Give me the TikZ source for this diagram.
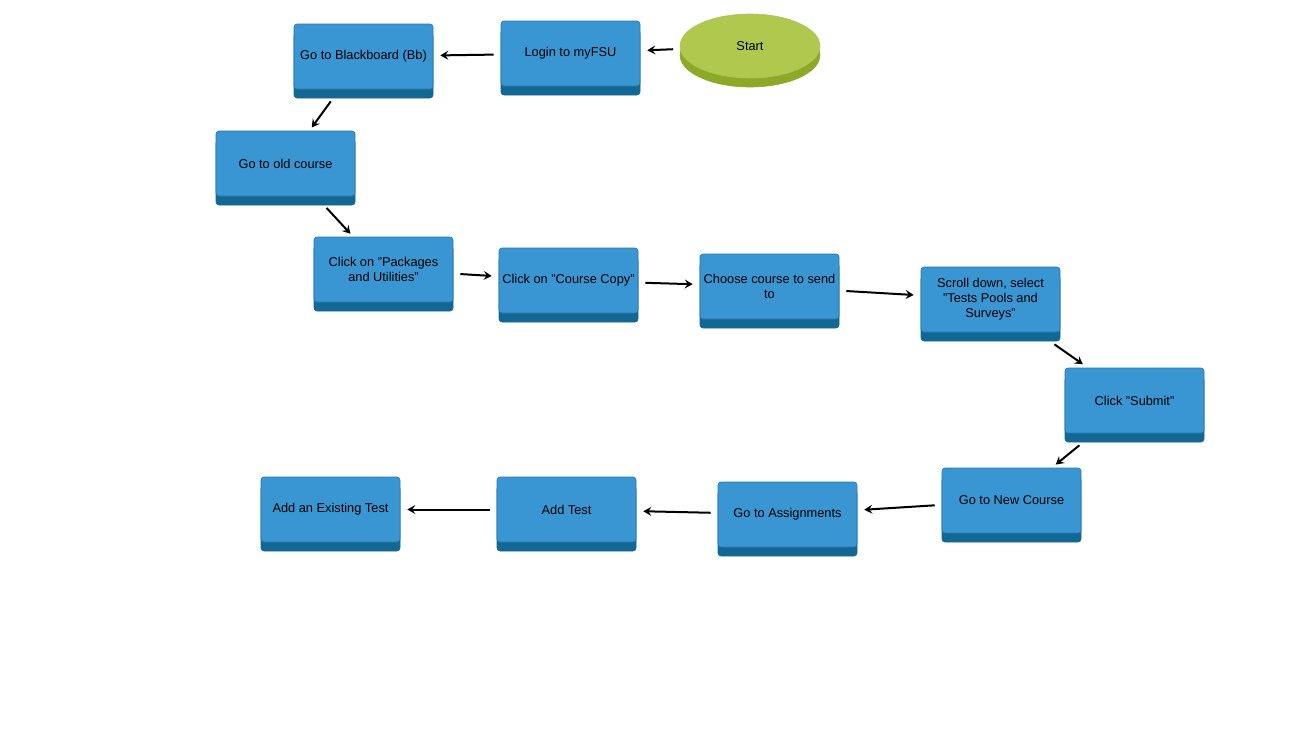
\documentclass[tikz,border=0pt]{standalone}
\usepackage{fontspec}
\setmainfont{Liberation Sans}
\usepackage{tikz}
\usetikzlibrary{
	arrows.meta,
	shapes.geometric
}
\definecolor{BoxBlue}{RGB}{58,150,211}
\definecolor{BoxEdge}{RGB}{36,118,176}
\definecolor{BoxDark}{RGB}{18,104,146}
\definecolor{StartGreen}{RGB}{176,200,78}
\definecolor{StartDark}{RGB}{140,170,38}

\begin{document}
\begin{tikzpicture}[x=1pt, y=-1pt,
		stepbox/.style={rectangle, rounded corners=3pt, minimum width=139pt, minimum height=65pt,
			inner sep=2pt, fill=BoxBlue, draw=BoxEdge, line width=0.6pt, align=center,
			font=\fontsize{12.8}{15}\selectfont,
			preaction={fill=BoxDark, draw=BoxDark, transform canvas={yshift=-9pt}}},
		startnode/.style={ellipse, minimum width=140pt, minimum height=64pt, inner sep=0pt,
			fill=StartGreen, draw=StartDark!70, line width=0.6pt,
			font=\fontsize{12.8}{15}\selectfont,
			preaction={fill=StartDark, draw=StartDark, transform canvas={yshift=-9pt}}},
		arr/.style={-{Stealth[length=8pt, width=9pt, inset=3pt]}, line width=2pt,
			shorten <=7pt, shorten >=7pt}]
		
		% 画布
		\useasboundingbox (0,0) rectangle (1300,750);
		
		% 第一行
		\node[startnode] (start) at (750,46) {Start};
		\node[stepbox] (login) at (570.5,53.5) {Login to myFSU};
		\node[stepbox] (bb) at (363.5,56.5) {Go to Blackboard (Bb)};
		\node[stepbox] (old) at (285.5,163.5) {Go to old course};
		
		% 中间一行
		\node[stepbox] (pkg) at (383.5,269.5) {Click on "Packages\\and Utilities"};
		\node[stepbox] (copy) at (568.5,280.5) {Click on "Course Copy"};
		\node[stepbox] (choose) at (769.5,286.5) {Choose course to send\\to};
		\node[stepbox] (scroll) at (990.5,299.5) {Scroll down, select\\"Tests Pools and\\Surveys"};
		\node[stepbox] (submit) at (1134.5,400.5) {Click "Submit"};
		
		% 最后一行
		\node[stepbox] (newc) at (1011.5,500.5) {Go to New Course};
		\node[stepbox] (assign) at (787.5,514.5) {Go to Assignments};
		\node[stepbox] (addtest) at (566.5,509.5) {Add Test};
		\node[stepbox] (exist) at (330.5,509.5) {Add an Existing Test};
		
		% 箭头
		\draw[arr] (start) -- (login);
		\draw[arr] (login) -- (bb);
		\draw[arr, shorten <=15pt, shorten >=4pt] (bb) -- (old);
		\draw[arr, shorten <=16pt, shorten >=4pt] (old) -- (pkg);
		\draw[arr] (pkg) -- (copy);
		\draw[arr] (copy) -- (choose);
		\draw[arr] (choose) -- (scroll);
		\draw[arr, shorten <=21pt, shorten >=6pt] (scroll) -- (submit);
		\draw[arr, shorten <=19pt, shorten >=5pt] (submit) -- (newc);
		\draw[arr] (newc) -- (assign);
		\draw[arr] (assign) -- (addtest);
		\draw[arr] (addtest) -- (exist);
	\end{tikzpicture}
\end{document}
